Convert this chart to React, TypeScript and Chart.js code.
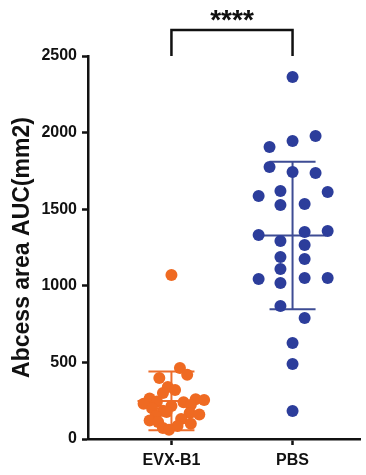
import React, { useEffect, useRef } from "react";
import { Chart, registerables } from "chart.js";

Chart.register(...registerables);

const categories = ["EVX-B1", "PBS"];
const yTicks = [0, 500, 1000, 1500, 2000, 2500];
const yTitle = "Abcess area AUC(mm2)";
const significance = "****";

const evxValues = [1070, 463, 420, 398, 340, 320, 300, 265, 260, 255, 245, 240, 230, 222, 215, 200, 185, 176, 170, 160, 150, 130, 120, 111, 100, 85, 72, 60];
const evxJitter = [0, 0.07, 0.13, -0.1, -0.03, 0.03, -0.07, -0.18, 0.2, 0.27, -0.12, 0.1, -0.23, 0.16, 0, -0.16, -0.07, -0.04, 0.15, 0.23, -0.13, 0.08, -0.18, -0.11, 0.16, 0.05, -0.07, -0.02];

const pbsValues = [2363, 1978, 1945, 1906, 1775, 1743, 1736, 1619, 1612, 1586, 1534, 1527, 1358, 1351, 1332, 1292, 1266, 1188, 1175, 1110, 1051, 1051, 1044, 1018, 868, 790, 627, 490, 183];
const pbsJitter = [0, 0.19, 0, -0.19, -0.19, 0, 0.19, -0.1, 0.29, -0.28, 0.1, -0.1, 0.29, 0.1, -0.28, -0.1, 0.1, -0.1, 0.1, -0.1, 0.1, 0.29, -0.28, -0.1, -0.1, 0.1, 0, 0, 0];

const colors = ["#ef6a22", "#2c3d9b"];
const barColors = ["#ec6d2c", "#3e4c94"];

function stats(v: number[]) {
  const m = v.reduce((a, b) => a + b, 0) / v.length;
  const sd = Math.sqrt(v.reduce((a, b) => a + (b - m) * (b - m), 0) / (v.length - 1));
  return { m, sd };
}

const groups = [
  { values: evxValues, jitter: evxJitter },
  { values: pbsValues, jitter: pbsJitter },
];

const errorBarPlugin = {
  id: "errorBars",
  beforeDatasetsDraw(chart: any) {
    const { ctx, scales } = chart;
    const xs = scales.x;
    const ys = scales.y;
    groups.forEach((g, i) => {
      const { m, sd } = stats(g.values);
      const cx = i + 1;
      ctx.save();
      ctx.strokeStyle = barColors[i];
      ctx.lineWidth = 2;
      const meanL = xs.getPixelForValue(cx - 0.28);
      const meanR = xs.getPixelForValue(cx + 0.28);
      const capL = xs.getPixelForValue(cx - 0.19);
      const capR = xs.getPixelForValue(cx + 0.19);
      const px = xs.getPixelForValue(cx);
      const yM = ys.getPixelForValue(m);
      const yU = ys.getPixelForValue(m + sd);
      const yL = ys.getPixelForValue(Math.max(m - sd, 0));
      ctx.beginPath();
      ctx.moveTo(meanL, yM);
      ctx.lineTo(meanR, yM);
      ctx.moveTo(px, yU);
      ctx.lineTo(px, yL);
      ctx.moveTo(capL, yU);
      ctx.lineTo(capR, yU);
      ctx.moveTo(capL, yL);
      ctx.lineTo(capR, yL);
      ctx.stroke();
      ctx.restore();
    });
  },
};

const bracketPlugin = {
  id: "bracket",
  afterDraw(chart: any) {
    const { ctx, scales } = chart;
    const x1 = scales.x.getPixelForValue(1);
    const x2 = scales.x.getPixelForValue(2);
    const yBottom = scales.y.getPixelForValue(2500);
    const yTop = yBottom - 26;
    ctx.save();
    ctx.strokeStyle = "#111";
    ctx.lineWidth = 2.5;
    ctx.beginPath();
    ctx.moveTo(x1, yBottom);
    ctx.lineTo(x1, yTop);
    ctx.lineTo(x2, yTop);
    ctx.lineTo(x2, yBottom);
    ctx.stroke();
    ctx.fillStyle = "#111";
    ctx.font = "bold 28px 'Liberation Sans', Arial, sans-serif";
    ctx.textAlign = "center";
    ctx.textBaseline = "alphabetic";
    ctx.fillText(significance, (x1 + x2) / 2, yTop - 1);
    ctx.restore();
  },
};

export default function App() {
  const ref = useRef<HTMLCanvasElement>(null);
  useEffect(() => {
    document.body.style.margin = "0";
    const canvas = ref.current;
    if (!canvas) return;
    const font = { family: "'Liberation Sans', Arial, sans-serif", weight: "bold" as const, size: 16 };
    const chart = new Chart(canvas, {
      type: "scatter",
      data: {
        datasets: groups.map((g, i) => ({
          label: categories[i],
          data: g.values.map((v, j) => ({ x: i + 1 + g.jitter[j], y: v })),
          backgroundColor: colors[i],
          borderWidth: 0,
          pointRadius: 6,
        })),
      },
      options: {
        animation: false,
        responsive: false,
        devicePixelRatio: 1,
        layout: { padding: { top: 56, right: 4, left: 0, bottom: 0 } },
        plugins: { legend: { display: false }, tooltip: { enabled: false } },
        scales: {
          x: {
            type: "linear",
            min: 0.311,
            max: 2.557,
            afterBuildTicks: (s: any) => {
              s.ticks = categories.map((_, i) => ({ value: i + 1 }));
            },
            afterFit: (s: any) => {
              s.height = 36;
            },
            ticks: {
              color: "#111",
              font,
              padding: 6,
              autoSkip: false,
              maxRotation: 0,
              callback: (v: any) => categories[Number(v) - 1] ?? "",
            },
            grid: { drawOnChartArea: false, drawTicks: true, tickLength: 6, tickWidth: 2.5, color: "#111" },
            border: { display: true, color: "#111", width: 2.5 },
          },
          y: {
            min: 0,
            max: 2500,
            afterBuildTicks: (s: any) => {
              s.ticks = yTicks.map((v) => ({ value: v }));
            },
            afterFit: (s: any) => {
              s.width = 88;
            },
            ticks: { color: "#111", font, padding: 5, callback: (v: any) => String(v) },
            grid: { drawOnChartArea: false, drawTicks: true, tickLength: 6, tickWidth: 2.5, color: "#111" },
            border: { display: true, color: "#111", width: 2.5 },
            title: {
              display: true,
              text: yTitle,
              color: "#111",
              font: { family: "'Liberation Sans', Arial, sans-serif", weight: "bold", size: 23 },
              padding: { top: 9, bottom: 0 },
            },
          },
        },
      },
      plugins: [errorBarPlugin, bracketPlugin],
    });
    return () => chart.destroy();
  }, []);
  return (
    <div style={{ width: 366, height: 475 }}>
      <canvas ref={ref} width={366} height={475} />
    </div>
  );
}
